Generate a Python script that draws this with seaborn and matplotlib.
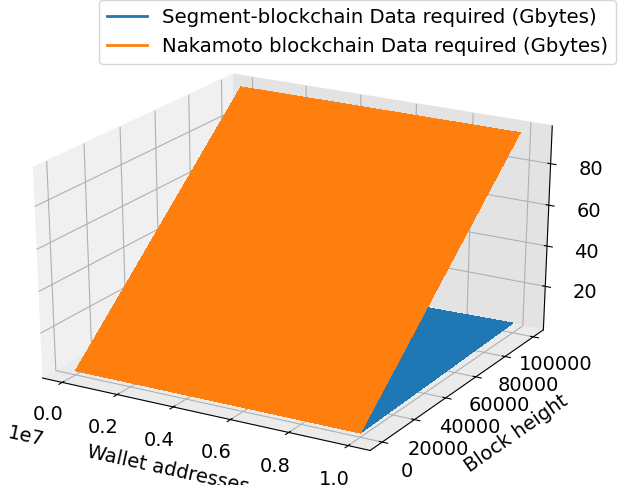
import numpy as np
import seaborn as sns
import matplotlib.pyplot as plt
from matplotlib.lines import Line2D
from matplotlib.transforms import Bbox

# values
wallets = [0, 2500000, 5000000, 7500000, 10000000]
blocks = [0, 25000, 50000, 75000, 100000]
segment_rows = [
    [0.1, 0.1, 0.1, 0.1, 0.1],
    [0.3, 0.4, 0.5, 0.6, 0.8],
    [0.5, 0.8, 1.0, 1.3, 1.5],
    [0.8, 1.1, 1.5, 1.9, 2.3],
    [1.0, 1.5, 2.0, 2.5, 3.0],
]
nakamoto_rows = [
    [0.1, 0.1, 0.1, 0.1, 0.1],
    [24, 24, 24, 24, 24],
    [48, 48, 48, 48, 48],
    [72, 72, 72, 72, 72],
    [96, 96, 96, 96, 96],
]
labels = ["Segment-blockchain Data required (Gbytes)", "Nakamoto blockchain Data required (Gbytes)"]

colors = sns.color_palette("tab10", 2)
plt.rcParams["font.size"] = 14

X, Y = np.meshgrid(wallets, blocks)

fig = plt.figure(figsize=(6.29, 4.93), dpi=100)
ax = fig.add_axes([0.0, 0.0, 0.922, 0.953], projection="3d", computed_zorder=False)
# let the box fill the axes like older matplotlib did
ax.apply_aspect = lambda position=None: None
ax.view_init(elev=24, azim=-60)
ax.plot_surface(X, Y, np.array(segment_rows), color=colors[0], shade=False, linewidth=0, antialiased=False, zorder=1)
ax.plot_surface(X, Y, np.array(nakamoto_rows), color=colors[1], shade=False, linewidth=0, antialiased=False, zorder=2)

ax.set_xlabel("Wallet addresses", labelpad=12)
ax.set_ylabel("Block height", labelpad=12)
ax.set_xticks([0, 2000000, 4000000, 6000000, 8000000, 10000000])
ax.set_yticks([0, 20000, 40000, 60000, 80000, 100000])
ax.set_zticks([20, 40, 60, 80])
ax.tick_params(axis="x", pad=6)
ax.tick_params(axis="y", pad=6)
ax.tick_params(axis="z", pad=8)

# the x label runs off the saved area in the original
ax.xaxis.label.set_clip_box(Bbox([[0, 8], [629, 493]]))
ax.xaxis.label.set_clip_on(True)

ax.xaxis.set_pane_color((0.94, 0.94, 0.94, 1))
ax.yaxis.set_pane_color((0.89, 0.89, 0.89, 1))
ax.zaxis.set_pane_color((0.92, 0.92, 0.92, 1))

handles = [Line2D([], [], color=c, lw=2) for c in colors]
fig.legend(handles, labels, loc="upper right", bbox_to_anchor=(0.98, 1.0), fontsize=14.2, borderaxespad=0)

fig.savefig("out.png", dpi=100)
